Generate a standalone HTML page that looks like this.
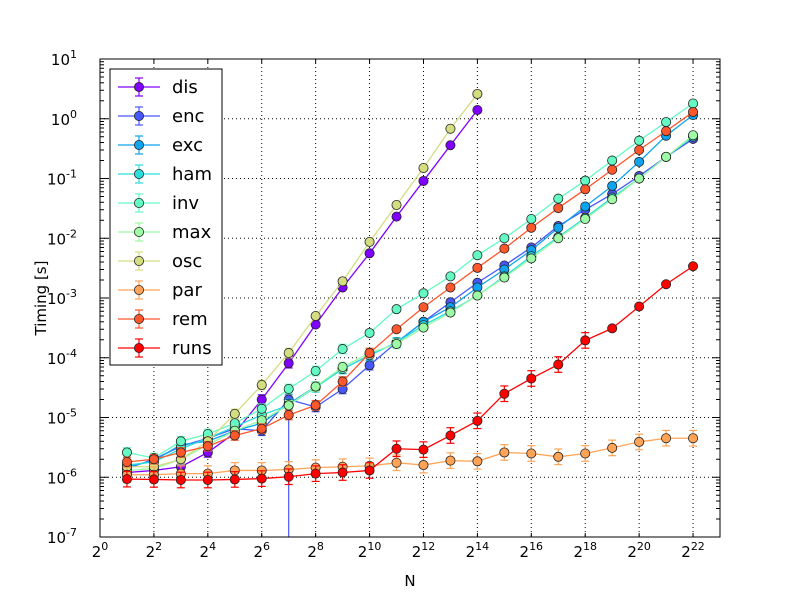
<!DOCTYPE html>
<html><head><meta charset="utf-8"><style>
body{margin:0;background:#fff;}
svg{display:block;font-family:"DejaVu Sans","Liberation Sans",sans-serif;}
</style></head><body>
<svg id="chart" width="800" height="597" viewBox="0 0 800 597" xmlns="http://www.w3.org/2000/svg">
<rect x="0" y="0" width="800" height="597" fill="#fff"/>
<g id="grid"></g>
<g id="series"></g>
<rect x="100" y="59" width="620" height="478" fill="none" stroke="#000" stroke-width="1"/>
<g id="ticks"></g>
<text x="410" y="586" font-size="15" text-anchor="middle">N</text>
<text x="46" y="298" font-size="15" text-anchor="middle" transform="rotate(-90 46 298)">Timing [s]</text>
<g id="legend"></g>
</svg>
<script>
const exponents = [1,2,3,4,5,6,7,8,9,10,11,12,13,14,15,16,17,18,19,20,21,22];
const seriesNames = ["dis","enc","exc","ham","inv","max","osc","par","rem","runs"];
const seriesColors = ["#8000ff","#4757fb","#0ea4f0","#2bdddd","#63fbc3","#9cfba4","#d4dd80","#ffa457","#ff572c","#ff0000"];
const dis = [1.2e-6,1.3e-6,1.5e-6,2.6e-6,5.5e-6,2.0e-5,8.1e-5,3.6e-4,1.5e-3,5.6e-3,0.023,0.091,0.36,1.4];
const enc = [1.4e-6,2.0e-6,3.3e-6,4.5e-6,6.5e-6,6e-6,2e-5,1.5e-5,3e-5,7.5e-5,1.8e-4,4e-4,8.5e-4,1.8e-3,3.5e-3,7e-3,0.016,0.03,0.055,0.11,0.23,0.46];
const exc = [1.5e-6,1.9e-6,3.5e-6,4e-6,6e-6,8e-6,1.7e-5,3.3e-5,6.5e-5,1.1e-4,1.8e-4,4e-4,7e-4,1.5e-3,3e-3,6.3e-3,0.015,0.034,0.075,0.19,0.52,1.15];
const ham = [1.6e-6,1.8e-6,3e-6,4.5e-6,7e-6,1.1e-5,1.6e-5,3.2e-5,6.5e-5,1.1e-4,1.8e-4,3.5e-4,6e-4,1.1e-3,2.3e-3,5e-3,0.0105,0.022,0.048,0.1,0.23,0.5];
const inv = [2.6e-6,2.1e-6,4e-6,5.3e-6,8e-6,1.4e-5,3e-5,6e-5,1.4e-4,2.6e-4,6.5e-4,1.2e-3,2.3e-3,5.2e-3,0.010,0.021,0.046,0.092,0.20,0.43,0.88,1.8];
const max = [1.3e-6,1.4e-6,2e-6,3.5e-6,6e-6,9e-6,1.6e-5,3.3e-5,7e-5,1.2e-4,1.7e-4,3.2e-4,5.7e-4,1.1e-3,2.2e-3,4.6e-3,0.01,0.021,0.045,0.1,0.23,0.53];
const osc = [1.5e-6,1.5e-6,2e-6,4e-6,1.15e-5,3.5e-5,1.2e-4,5e-4,1.9e-3,8.7e-3,0.036,0.15,0.68,2.6];
const par = [1.1e-6,1.1e-6,1.15e-6,1.15e-6,1.3e-6,1.3e-6,1.35e-6,1.45e-6,1.5e-6,1.55e-6,1.75e-6,1.6e-6,1.9e-6,1.85e-6,2.6e-6,2.5e-6,2.2e-6,2.5e-6,3.1e-6,3.9e-6,4.5e-6,4.5e-6];
const rem = [1.8e-6,2.0e-6,2.6e-6,3.3e-6,5e-6,6.5e-6,1.1e-5,1.6e-5,4e-5,1.2e-4,3e-4,7e-4,1.5e-3,3.2e-3,6.7e-3,0.015,0.032,0.066,0.14,0.30,0.62,1.3];
const runs = [0.93e-6,0.92e-6,0.9e-6,0.9e-6,0.92e-6,0.95e-6,1.02e-6,1.15e-6,1.2e-6,1.3e-6,3e-6,2.9e-6,5e-6,8.8e-6,2.5e-5,4.5e-5,7.7e-5,1.95e-4,3.1e-4,7.2e-4,1.7e-3,3.4e-3];
const seriesValues = [dis,enc,exc,ham,inv,max,osc,par,rem,runs];
const xTickExps = [0,2,4,6,8,10,12,14,16,18,20,22];
const yTickExps = [-7,-6,-5,-4,-3,-2,-1,0,1];

const NS="http://www.w3.org/2000/svg";
const L=100,R=720,T=59,B=537;
const X0=0,X1=23,YMIN=-7,YMAX=1;
function xs(k){return L+(k-X0)/(X1-X0)*(R-L);}
function ys(v){return T+(YMAX-Math.log10(v))/(YMAX-YMIN)*(B-T);}
function ysExp(e){return T+(YMAX-e)/(YMAX-YMIN)*(B-T);}
function el(tag,attrs,parent){const e=document.createElementNS(NS,tag);for(const a in attrs)e.setAttribute(a,attrs[a]);parent.appendChild(e);return e;}
const grid=document.getElementById('grid'),ticks=document.getElementById('ticks'),sg=document.getElementById('series'),lg=document.getElementById('legend');

xTickExps.forEach(e=>{
  const x=xs(e);
  if(e>0){const g=el('line',{x1:x,x2:x,y1:T,y2:B,stroke:'#000','stroke-dasharray':'1,3','stroke-width':1},grid);
  
  }
  el('line',{x1:x,x2:x,y1:B,y2:B-4,stroke:'#000'},ticks);
  el('line',{x1:x,x2:x,y1:T,y2:T+4,stroke:'#000'},ticks);
  const t=el('text',{x:x,y:557,'font-size':15,'text-anchor':'middle'},ticks);
  
  
  t.innerHTML='2<tspan dy="-7" font-size="11">'+e+'</tspan>';
});
yTickExps.forEach(e=>{
  const y=ysExp(e);
  if(e>YMIN&&e<YMAX){const g=el('line',{x1:L,x2:R,y1:y,y2:y,stroke:'#000','stroke-dasharray':'1,3','stroke-width':1},grid);
  
  }
  el('line',{x1:L,x2:L+8,y1:y,y2:y,stroke:'#000'},ticks);
  el('line',{x1:R,x2:R-8,y1:y,y2:y,stroke:'#000'},ticks);
  if(e<YMAX){for(let m=2;m<10;m++){const yy=ysExp(e+Math.log10(m));
    el('line',{x1:L,x2:L+4,y1:yy,y2:yy,stroke:'#000'},ticks);
    el('line',{x1:R,x2:R-4,y1:yy,y2:yy,stroke:'#000'},ticks);}}
  const t=el('text',{x:77,y:y+6,'font-size':15,'text-anchor':'end'},ticks);
  
  
  t.innerHTML='10<tspan dy="-7" font-size="11">'+e+'</tspan>';
});

seriesValues.forEach((vals,i)=>{
  const c=seriesColors[i];
  const g=el('g',{},sg);
  
  
  const pts=vals.map((v,j)=>[xs(exponents[j]),ys(v)]);
  vals.forEach((v,j)=>{
    if(v>2e-4) return;
    const f=(seriesNames[i]==='runs'||seriesNames[i]==='par')?1.35:1.2;
    const x=pts[j][0],y1=ys(v*f),y2=ys(v/f);
    el('line',{x1:x,x2:x,y1:y1,y2:y2,stroke:c,'stroke-width':1.2},g);
    el('line',{x1:x-4,x2:x+4,y1:y1,y2:y1,stroke:c,'stroke-width':1.2},g);
    el('line',{x1:x-4,x2:x+4,y1:y2,y2:y2,stroke:c,'stroke-width':1.2},g);
  });
  if(seriesNames[i]==='enc'){const x=xs(7);el('line',{x1:x,x2:x,y1:ys(vals[6]),y2:B,stroke:c,'stroke-width':1.2},g);}
  el('polyline',{points:pts.map(p=>p.join(',')).join(' '),fill:'none',stroke:c,'stroke-width':1.3},g);
  pts.forEach(p=>{const m=el('circle',{cx:p[0],cy:p[1],r:4.6,fill:c,stroke:'#222','stroke-width':0.8},g);
    
    });
});

el('rect',{x:110,y:69,width:112,height:296,fill:'#fff',stroke:'#000','stroke-width':1},lg);
seriesNames.forEach((n,i)=>{
  const y=87+i*29,c=seriesColors[i];
  const g=el('g',{},lg);
  
  
  el('line',{x1:118,x2:160,y1:y,y2:y,stroke:c,'stroke-width':1.3},g);
  el('line',{x1:139,x2:139,y1:y-9,y2:y+9,stroke:c,'stroke-width':1.2},g);
  el('line',{x1:135,x2:143,y1:y-9,y2:y-9,stroke:c,'stroke-width':1.2},g);
  el('line',{x1:135,x2:143,y1:y+9,y2:y+9,stroke:c,'stroke-width':1.2},g);
  el('circle',{cx:139,cy:y,r:4.6,fill:c,stroke:'#222','stroke-width':0.8},g);
  const t=el('text',{x:172,y:y+6,'font-size':18},g);
  t.textContent=n;
});
</script>
</body></html>
